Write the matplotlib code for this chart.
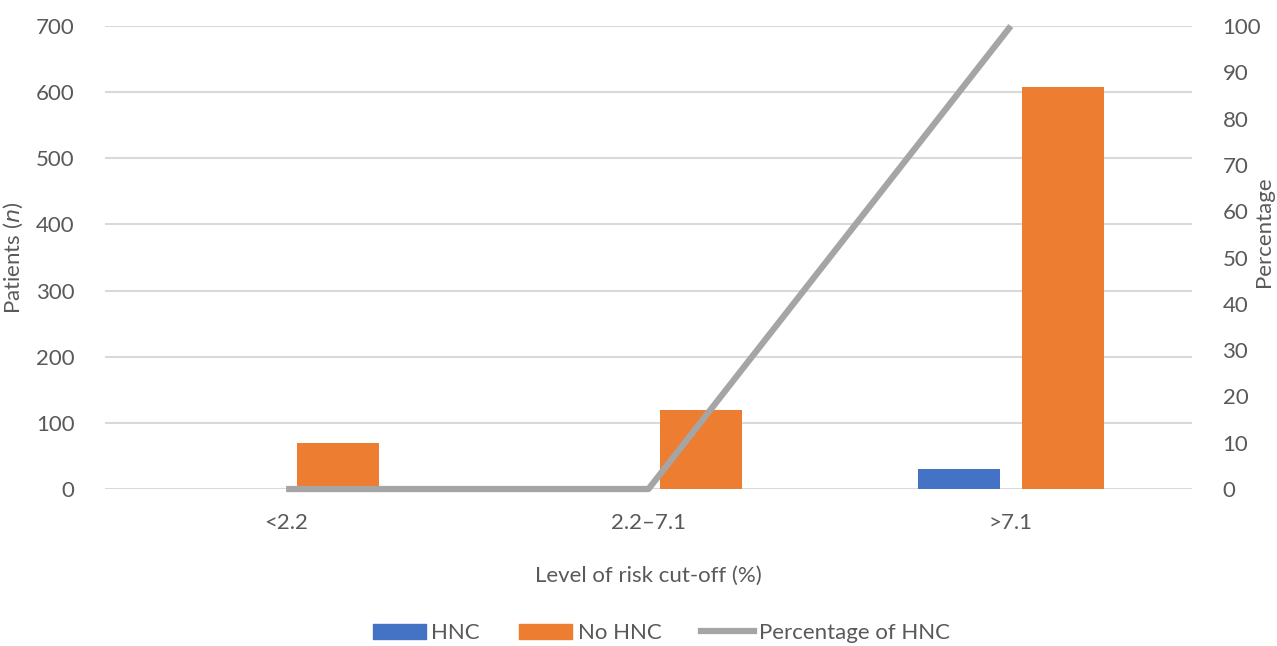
import numpy as np
import matplotlib.pyplot as plt
from matplotlib.patches import Patch
from matplotlib.lines import Line2D

plt.rcParams['font.family'] = ['Lato', 'DejaVu Sans']

categories = ['<2.2', '2.2\u20137.1', '>7.1']
hnc = [0, 0, 30]
no_hnc = [70, 120, 608]
pct_hnc = [0, 0, 100]

blue = '#4472C4'
orange = '#ED7D31'
grey = '#A5A5A5'
txt = '#595959'
grid = '#D9D9D9'
fs = 16

fig = plt.figure(figsize=(12.77, 6.46), dpi=100)
ax = fig.add_axes([0.0822, 0.243, 0.8512, 0.7167])
ax2 = ax.twinx()

x = np.arange(len(categories))
w = 0.226
ax.bar(x - 0.144, hnc, w, color=blue, zorder=2)
ax.bar(x + 0.144, no_hnc, w, color=orange, zorder=2)

ax.set_xlim(-0.5, 2.5)
ax.set_ylim(0, 700)
ax.set_yticks(range(0, 701, 100))
ax.yaxis.grid(True, color=grid, lw=1.5, zorder=0)
ax.set_axisbelow(True)
ax.set_xticks(x)
ax.set_xticklabels(categories)
ax.tick_params(length=0, labelsize=fs, colors=txt)
ax.tick_params(axis='x', pad=17)
ax.tick_params(axis='y', pad=22)
for s in ax.spines.values():
    s.set_visible(False)
ax.set_xlabel('Level of risk cut-off (%)', fontsize=fs, color=txt, labelpad=24)
ax.set_ylabel('Patients ($\\it{n}$)', fontsize=fs, color=txt, labelpad=8)

ax2.plot(x, pct_hnc, color=grey, lw=4.5, solid_capstyle='butt', clip_on=False, zorder=3)
ax2.set_ylim(0, 100)
ax2.set_yticks(range(0, 101, 10))
ax2.tick_params(length=0, labelsize=fs, colors=txt, pad=22)
for s in ax2.spines.values():
    s.set_visible(False)
fig.text(1264 / 1277, 1 - 232 / 646, 'Percentage', rotation=90, ha='center',
         va='center', fontsize=fs, color=txt)

handles = [Patch(color=blue), Patch(color=orange),
           Line2D([0], [0], color=grey, lw=4.5)]
fig.legend(handles, ['HNC', 'No HNC', 'Percentage of HNC'], loc='center',
           bbox_to_anchor=(0.518, 0.02), ncol=3, frameon=False, fontsize=fs,
           labelcolor=txt, handlelength=2.4, handleheight=0.7, columnspacing=1.75,
           handletextpad=0.25, borderpad=0.2)

fig.savefig('out.png', dpi=100)
